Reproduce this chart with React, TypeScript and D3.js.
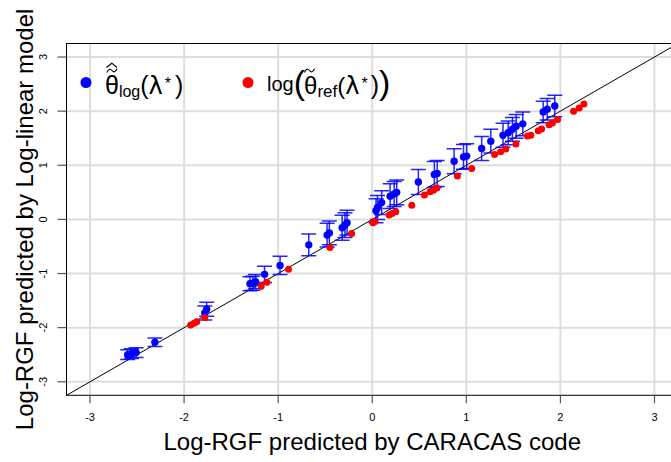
import React from "react";
import * as d3 from "d3";

const ticks = [-3, -2, -1, 0, 1, 2, 3];

const blueX = [-2.6, -2.56, -2.51, -2.31, -1.78, -1.76, -1.3, -1.27, -1.24, -1.145, -0.98, -0.675, -0.48, -0.456, -0.32, -0.29, -0.268, 0.04, 0.056, 0.1, 0.19, 0.233, 0.26, 0.49, 0.66, 0.69, 0.87, 0.97, 1.004, 1.163, 1.26, 1.39, 1.445, 1.49, 1.53, 1.6, 1.817, 1.86, 1.94];
const blueY = [-2.5, -2.48, -2.46, -2.27, -1.73, -1.66, -1.19, -1.18, -1.15, -1.015, -0.85, -0.47, -0.29, -0.25, -0.155, -0.105, -0.06, 0.16, 0.22, 0.31, 0.43, 0.47, 0.5, 0.69, 0.83, 0.85, 1.075, 1.155, 1.17, 1.31, 1.445, 1.555, 1.6, 1.665, 1.72, 1.765, 1.985, 2.035, 2.095];
const blueErr = [0.09, 0.09, 0.09, 0.08, 0.13, 0.13, 0.13, 0.13, 0.13, 0.15, 0.17, 0.2, 0.22, 0.22, 0.23, 0.23, 0.23, 0.22, 0.22, 0.22, 0.23, 0.23, 0.23, 0.23, 0.24, 0.24, 0.23, 0.23, 0.23, 0.22, 0.22, 0.22, 0.22, 0.22, 0.22, 0.22, 0.2, 0.2, 0.2];

const redX = [-1.93, -1.894, -1.866, -1.78, -1.18, -1.12, -0.89, -0.45, -0.22, 0.007, 0.03, 0.18, 0.21, 0.25, 0.42, 0.555, 0.615, 0.65, 0.686, 0.905, 1.057, 1.3, 1.365, 1.42, 1.527, 1.65, 1.686, 1.765, 1.8, 1.88, 1.915, 1.97, 2.14, 2.2, 2.25];
const redY = [-1.95, -1.92, -1.89, -1.815, -1.23, -1.16, -0.92, -0.52, -0.26, -0.06, -0.04, 0.08, 0.11, 0.14, 0.26, 0.45, 0.51, 0.54, 0.58, 0.8, 0.94, 1.2, 1.25, 1.3, 1.395, 1.54, 1.555, 1.64, 1.67, 1.75, 1.78, 1.845, 2.0, 2.06, 2.13];

const W = 671;
const H = 462;
const LEFT = 66.5;
const RIGHT = 678;
const TOP = 43.5;
const BOTTOM = 395.3;
const FONT = "'Liberation Sans', Arial, Helvetica, sans-serif";
const GREEK = "'DejaVu Sans', 'Liberation Sans', sans-serif";

export default function App() {
  const x = d3.scaleLinear().domain([-3.25, 3.25]).range([LEFT, RIGHT]);
  const y = d3.scaleLinear().domain([-3.25, 3.25]).range([BOTTOM, TOP]);
  const cap = 7.5;
  const diag = d3.line<number>().x((d) => x(d)).y((d) => y(d));

  return (
    <svg
      width={W}
      height={H}
      style={{ position: "absolute", left: 0, top: 0, background: "#fff" }}
      fontFamily={FONT}
    >
      <defs>
        <clipPath id="plotclip">
          <rect x={LEFT} y={TOP} width={RIGHT - LEFT} height={BOTTOM - TOP} />
        </clipPath>
      </defs>
      <rect x={0} y={0} width={W} height={H} fill="#fff" />
      {/* grid */}
      <g stroke="#dedede" strokeWidth={2}>
        {ticks.map((t) => (
          <line key={"gx" + t} x1={x(t)} x2={x(t)} y1={TOP} y2={BOTTOM} />
        ))}
        {ticks.map((t) => (
          <line key={"gy" + t} x1={LEFT} x2={RIGHT} y1={y(t)} y2={y(t)} />
        ))}
      </g>
      {/* box */}
      <rect x={LEFT} y={TOP} width={RIGHT - LEFT} height={BOTTOM - TOP} fill="none" stroke="#000" strokeWidth={1} />
      {/* ticks */}
      <g stroke="#555" strokeWidth={1.2}>
        {ticks.map((t) => (
          <line key={"tx" + t} x1={x(t)} x2={x(t)} y1={BOTTOM} y2={BOTTOM + 8} />
        ))}
        {ticks.map((t) => (
          <line key={"ty" + t} x1={LEFT - 9} x2={LEFT} y1={y(t)} y2={y(t)} />
        ))}
      </g>
      <g fontSize={11} fill="#000" textAnchor="middle">
        {ticks.map((t) => (
          <text key={"lx" + t} x={x(t)} y={421}>
            {t}
          </text>
        ))}
        {ticks.map((t) => (
          <text key={"ly" + t} transform={`translate(47,${y(t)}) rotate(-90)`}>
            {t}
          </text>
        ))}
      </g>
      {/* axis titles */}
      <text x={x(0)} y={449.5} fontSize={24} textAnchor="middle" fill="#000">
        Log-RGF predicted by CARACAS code
      </text>
      <text transform={`translate(33,${y(0)}) rotate(-90)`} fontSize={24} textAnchor="middle" fill="#000">
        Log-RGF predicted by Log-linear model
      </text>
      {/* data */}
      <g clipPath="url(#plotclip)">
        <path d={diag([-3.25, 3.25]) || ""} stroke="#000" strokeWidth={1} fill="none" />
        <g stroke="#0000ff" strokeOpacity={0.85} strokeWidth={1.5}>
          {blueX.map((bx, i) => {
            const cx = x(bx);
            const lo = y(blueY[i] - blueErr[i]);
            const hi = y(blueY[i] + blueErr[i]);
            return (
              <g key={"e" + i}>
                <line x1={cx} x2={cx} y1={lo} y2={hi} />
                <line x1={cx - cap} x2={cx + cap} y1={lo} y2={lo} />
                <line x1={cx - cap} x2={cx + cap} y1={hi} y2={hi} />
              </g>
            );
          })}
        </g>
        {blueX.map((bx, i) => (
          <circle key={"b" + i} cx={x(bx)} cy={y(blueY[i])} r={3.7} fill="#0000ff" />
        ))}
        {redX.map((rx, i) => (
          <circle key={"r" + i} cx={x(rx)} cy={y(redY[i])} r={3.5} fill="#ff0000" />
        ))}
      </g>
      {/* legend 1 */}
      <circle cx={86} cy={82.5} r={5.5} fill="#0000ff" />
      <path d="M106.5,67.5 L111.8,63.2 L117,67.5" stroke="#000" strokeWidth={1.1} fill="none" />
      <path d="M107,72.5 C108.5,68.5 110.5,68.5 112,70.5 C113.5,72.5 115.5,72.5 117,68.8" stroke="#000" strokeWidth={1.1} fill="none" />
      <text x={105} y={93.5} fill="#000" fontSize={25}>
        <tspan>θ</tspan>
        <tspan fontSize={16} dy={3}>log</tspan>
        <tspan fontSize={25} dy={-3}>(</tspan>
        <tspan fontFamily={GREEK} fontSize={24}>λ</tspan>
        <tspan fontSize={16} dy={-5} dx={2}>*</tspan>
        <tspan fontSize={25} dy={5} dx={4}>)</tspan>
      </text>
      {/* legend 2 */}
      <circle cx={248} cy={82.5} r={5.5} fill="#ff0000" />
      <path d="M304.5,72.5 C306,68.5 308,68.5 309.5,70.5 C311,72.5 313,72.5 314.5,68.8" stroke="#000" strokeWidth={1.1} fill="none" />
      <text x={267} y={91} fill="#000" fontSize={20}>
        <tspan>log</tspan>
        <tspan fontSize={34} dy={2.5}>(</tspan>
        <tspan fontSize={24} dx={-1}>θ</tspan>
        <tspan fontSize={17} dy={3}>ref</tspan>
        <tspan fontSize={24} dy={-3}>(</tspan>
        <tspan fontFamily={GREEK} fontSize={24}>λ</tspan>
        <tspan fontSize={16} dy={-5} dx={2}>*</tspan>
        <tspan fontSize={25} dy={5} dx={3}>)</tspan>
        <tspan fontSize={34}>)</tspan>
      </text>
    </svg>
  );
}
